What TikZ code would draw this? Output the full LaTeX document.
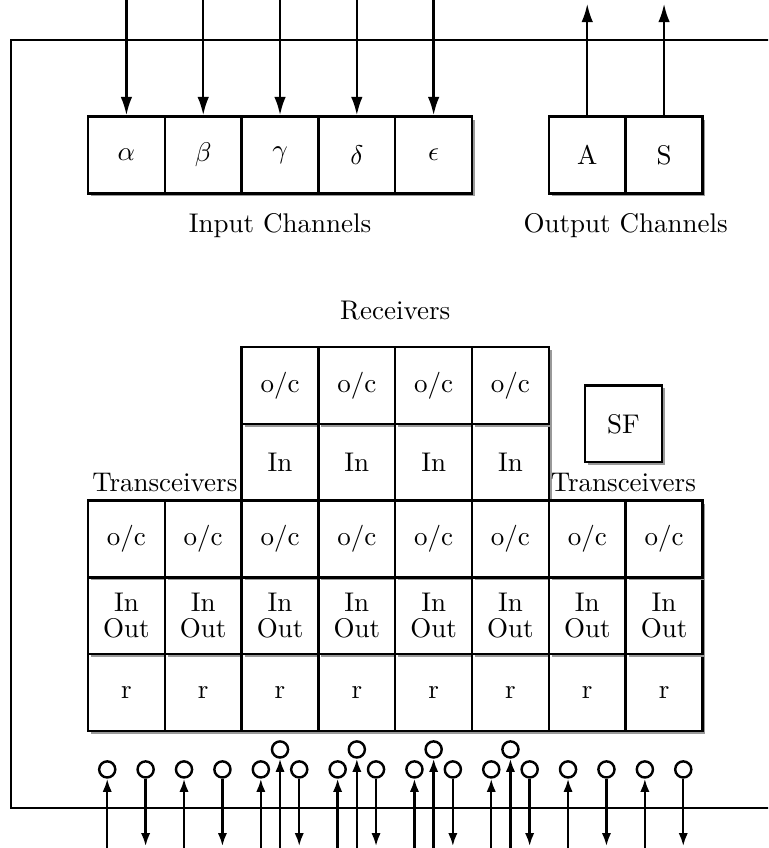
\documentclass[tikz,border=0pt]{standalone}
\usepackage{amsmath,amssymb}
\usetikzlibrary{arrows.meta,positioning,shadows}

\begin{document}
\begin{tikzpicture}[
    cell/.style={draw, line width=0.9pt, fill=white, minimum size=1cm, inner sep=0pt, align=center,
        drop shadow={shadow xshift=1.1pt, shadow yshift=-1.1pt, fill=black!40, opacity=1}},
    pin/.style={circle, draw, line width=0.9pt, fill=white, minimum size=0.21cm, inner sep=0pt},
    wire/.style={line width=0.9pt, -{Latex[length=2.4mm,width=1.5mm]}},
    pinwire/.style={line width=0.9pt, -{Latex[length=1.7mm,width=1.2mm]}}
]
    \clip (-1.146,-1.523) rectangle (8.854,9.518);

    % board outline
    \draw[line width=0.9pt] (-1,-1) rectangle (9.3,9);

    % input channels
    \foreach \s [count=\i] in {\alpha,\beta,\gamma,\delta,\epsilon} {
        \node[cell] (in\i) at (\i-0.5,7.5) {$\s$};
        \coordinate (src\i) at (\i-0.5,9.8);
        \draw[wire] (src\i) -- (in\i);
    }
    \node at (2.5,6.58) (inlbl) {Input Channels};

    % output channels
    \foreach \s [count=\i] in {A,S} {
        \node[cell] (out\i) at (5.5+\i,7.5) {\s};
        \coordinate (dst\i) at (5.5+\i,9.47);
        \draw[wire] (out\i) -- (dst\i);
    }
    \node at (7,6.58) (outlbl) {Output Channels};

    % receivers
    \foreach \i in {1,...,4} {
        \node[cell] (rin\i) at (1.5+\i,3.5) {In};
        \node[cell] (roc\i) at (1.5+\i,4.5) {o/c};
    }
    \node at (4,5.47) (rxlbl) {Receivers};

    \node[cell] (sf) at (6.97,4) {SF};

    % transceivers
    \node at (1,3.24) (txlblL) {Transceivers};
    \node at (6.97,3.24) (txlblR) {Transceivers};
    \foreach \i in {1,...,8} {
        \node[cell] (r\i) at (\i-0.5,0.5) {r};
        \node[cell] (io\i) at (\i-0.5,1.5) {In\\[-2.5pt]Out};
        \node[cell] (oc\i) at (\i-0.5,2.5) {o/c};
    }

    % pins: up into the board, down out of it
    \foreach \i in {1,...,8} {
        \node[pin] (pu\i) at (\i-0.75,-0.5) {};
        \node[pin] (pd\i) at (\i-0.25,-0.5) {};
        \coordinate (bu\i) at (\i-0.75,-1.7);
        \coordinate (bd\i) at (\i-0.25,-1.5);
        \draw[pinwire] (bu\i) -- (pu\i);
        \draw[pinwire] (pd\i) -- (bd\i);
    }

    % receiver pins
    \foreach \i in {1,...,4} {
        \node[pin] (pr\i) at (1.5+\i,-0.24) {};
        \coordinate (br\i) at (1.5+\i,-1.7);
        \draw[pinwire] (br\i) -- (pr\i);
    }
\end{tikzpicture}
\end{document}
